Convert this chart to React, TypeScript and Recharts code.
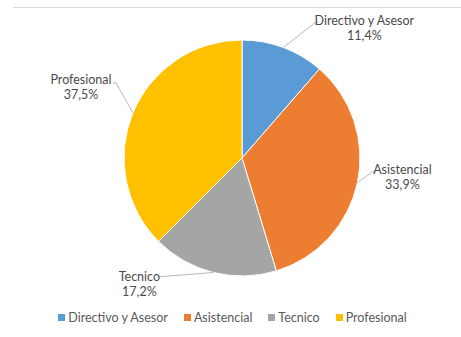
import { PieChart, Pie, Cell, Legend } from 'recharts'

const categories = ['Directivo y Asesor', 'Asistencial', 'Tecnico', 'Profesional']
const shares = [11.4, 33.9, 17.2, 37.5]
const colors = ['#5B9BD5', '#ED7D31', '#A5A5A5', '#FFC000']

const data = categories.map((name, i) => ({ name, value: shares[i] }))

// label text centre (dx, dy) and leader end (ex, ey), relative to the slice edge point
const labelLayout = [
  { dx: 81, dy: -20, ex: 32, ey: -25 },
  { dx: 45, dy: -6, ex: 15, ey: -11 },
  { dx: -74, dy: 11, ex: -50, ey: 4 },
  { dx: -52, dy: -26, ex: -17, ey: -30 },
]

const RAD = Math.PI / 180
const font = 'Lato, "Open Sans", sans-serif'

const renderLabel = (props: any) => {
  const { cx, cy, midAngle, outerRadius, index } = props
  const px = cx + outerRadius * Math.cos(-midAngle * RAD)
  const py = cy + outerRadius * Math.sin(-midAngle * RAD)
  const l = labelLayout[index]
  const tx = px + l.dx
  const ty = py + l.dy
  const lx = px + l.ex
  const ly = py + l.ey
  const hx = lx + (l.ex >= 0 ? 3 : -3)
  return (
    <g>
      <path d={`M${px},${py}L${lx},${ly}L${hx},${ly}`} stroke="#a6a6a6" strokeWidth={0.8} fill="none" />
      <text x={tx} y={ty - 7} textAnchor="middle" dominantBaseline="central" fontSize={12.5} fill="#4a4a4a" fontFamily={font}>
        {categories[index]}
      </text>
      <text x={tx} y={ty + 8} textAnchor="middle" dominantBaseline="central" fontSize={12.5} fill="#4a4a4a" fontFamily={font}>
        {shares[index].toFixed(1).replace('.', ',')}%
      </text>
    </g>
  )
}

const renderLegend = () => (
  <div style={{ display: 'flex', justifyContent: 'center', gap: 16, fontFamily: font, fontSize: 12.5, color: '#595959', paddingLeft: 4 }}>
    {categories.map((c, i) => (
      <span key={c} style={{ display: 'flex', alignItems: 'center' }}>
        <span style={{ width: 7, height: 7, background: colors[i], marginRight: 3, display: 'inline-block' }} />
        {c}
      </span>
    ))}
  </div>
)

export default function App() {
  return (
    <div style={{ position: 'absolute', left: 0, top: 0, width: 461, height: 337, background: '#fff' }}>
      <div style={{ position: 'absolute', left: 13, top: 7, width: 448, height: 1, background: '#d9d9d9' }} />
      <PieChart width={461} height={337}>
        <Pie
          data={data}
          dataKey="value"
          nameKey="name"
          cx={237}
          cy={153}
          outerRadius={118}
          startAngle={90}
          endAngle={-270}
          stroke="#fff"
          strokeWidth={1}
          label={renderLabel}
          labelLine={false}
          isAnimationActive={false}
        >
          {data.map((d, i) => (
            <Cell key={d.name} fill={colors[i]} />
          ))}
        </Pie>
        <Legend content={renderLegend} wrapperStyle={{ top: 310, left: 0, width: 461 }} />
      </PieChart>
    </div>
  )
}
